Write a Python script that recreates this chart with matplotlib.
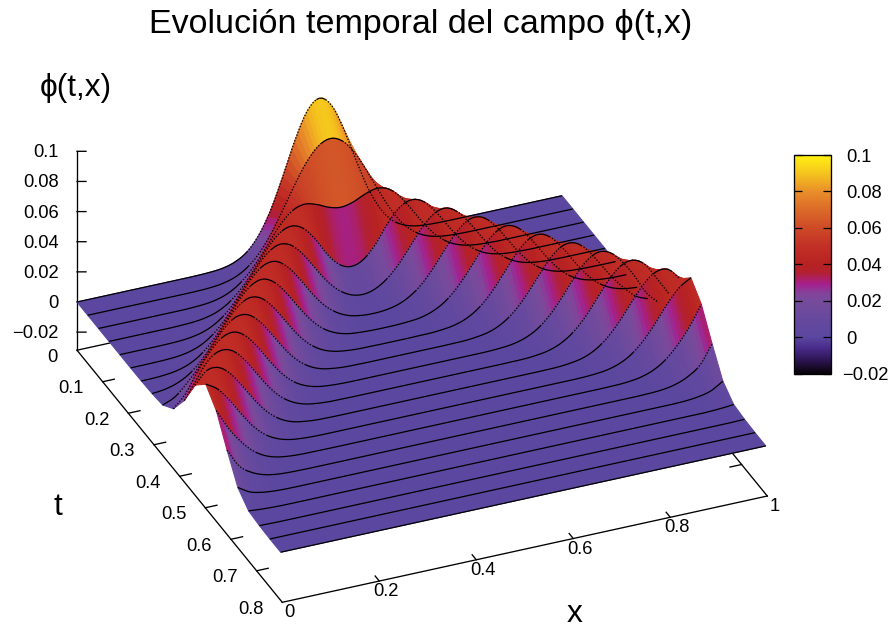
import numpy as np
import matplotlib
matplotlib.use("Agg")
import matplotlib.pyplot as plt
from matplotlib.colors import LinearSegmentedColormap, Normalize
from matplotlib.cm import ScalarMappable
from matplotlib.transforms import ScaledTranslation
from mpl_toolkits.mplot3d import proj3d

plt.rcParams['font.family'] = ['Liberation Sans', 'DejaVu Sans']

# ---- data: phi(t, x), in units of 1e-3 ----
x_vals = [i / 40 for i in range(41)]
t_vals = [0, .042, .084, .125, .167, .209, .251, .293, .334, .376,
          .418, .46, .502, .543, .585, .627, .669, .711, .752, .794]
row00 = [0,0,0,0,0,0,0,0,0,0,.1,.4,1.2,3.5,8.4,18,33.3,53.9,76,93.4,100,93.4,76,53.9,33.3,18,8.4,3.5,1.2,.4,.1,0,0,0,0,0,0,0,0,0,0]
row01 = [0,0,0,0,0,0,0,0,0,.1,.4,1.3,3.4,7.6,14.9,26,40.2,55.5,69.2,78.6,82,78.6,69.2,55.5,40.2,26,14.9,7.6,3.4,1.3,.4,.1,0,0,0,0,0,0,0,0,0]
row02 = [0,0,0,0,0,0,0,0,.3,.9,2.5,5.8,11.7,20.5,31.5,42.4,50,52.5,50.5,46.9,45.2,46.9,50.5,52.5,50,42.4,31.5,20.5,11.7,5.8,2.5,.9,.3,0,0,0,0,0,0,0,0]
row03 = [0,0,0,0,0,0,.2,.6,1.7,4.2,9,16.7,26.9,38,46.7,50,46.9,38,26,17.5,14.5,17.5,26,38,46.9,50,46.7,38,26.9,16.7,9,4.2,1.7,.6,.2,0,0,0,0,0,0]
row04 = [0,0,0,0,.1,.4,1.3,3.3,7.3,14,23.7,34.8,44.5,49.7,48.3,41,30.3,19.5,11.3,6.3,4.6,6.3,11.3,19.5,30.3,41,48.3,49.7,44.5,34.8,23.7,14,7.3,3.3,1.3,.4,.1,0,0,0,0]
row05 = [0,0,.1,.3,.9,2.5,5.8,11.7,20.5,31.4,42,48.8,49.5,43.7,33.7,22.6,13.2,6.8,3,1.3,.8,1.3,3,6.8,13.2,22.6,33.7,43.7,49.5,48.8,42,31.4,20.5,11.7,5.8,2.5,.9,.3,.1,0,0]
row06 = [.1,.2,.7,1.9,4.6,9.6,17.6,28,39,47.3,50,46,36.9,25.8,15.8,8.4,3.9,1.5,.6,.2,.1,.2,.6,1.5,3.9,8.4,15.8,25.8,36.9,46,50,47.3,39,28,17.6,9.6,4.6,1.9,.7,.2,.1]
row07 = [.5,1.4,3.6,7.8,14.9,24.7,35.9,45.3,49.9,47.9,40.1,29.2,18.5,10.3,5,2.1,.8,.2,.1,0,0,0,.1,.2,.8,2.1,5,10.3,18.5,29.2,40.1,47.9,49.9,45.3,35.9,24.7,14.9,7.8,3.6,1.4,.5]
row08 = [1.5,5,12.5,21.6,32.5,42.8,49.1,49.1,42.8,32.5,21.6,12.5,6.3,2.7,1.1,.3,.1,0,0,0,0,0,0,0,.1,.3,1.1,2.7,6.3,12.5,21.6,32.5,42.8,49.1,49.1,42.8,32.5,21.6,12.5,5,1.5]
row09 = [7.8,16,29.2,40.1,47.9,49.9,45.3,35.9,24.7,14.9,7.8,3.6,1.4,.5,.1,0,0,0,0,0,0,0,0,0,0,0,.1,.5,1.4,3.6,7.8,14.9,24.7,35.9,45.3,49.9,47.9,40.1,29.2,16,7.8]
row10 = [22,34,45.3,49.9,47.9,40.1,29.2,18.5,10.3,5,2.1,.8,.2,.1,0,0,0,0,0,0,0,0,0,0,0,0,0,.1,.2,.8,2.1,5,10.3,18.5,29.2,40.1,47.9,49.9,45.3,34,22]
row11 = [41,49.1,49.1,42.8,32.5,21.6,12.5,6.3,2.7,1.1,.3,.1,0,0,0,0,0,0,0,0,0,0,0,0,0,0,0,0,0,.1,.3,1.1,2.7,6.3,12.5,21.6,32.5,42.8,49.1,49.1,41]
row12 = [50.5,45.3,35.9,24.7,14.9,7.8,3.6,1.4,.5,.1,0,0,0,0,0,0,0,0,0,0,0,0,0,0,0,0,0,0,0,0,0,.1,.5,1.4,3.6,7.8,14.9,24.7,35.9,45.3,50.5]
row13 = [41.5,28,17.6,9.6,4.6,1.9,.7,.2,.1,0,0,0,0,0,0,0,0,0,0,0,0,0,0,0,0,0,0,0,0,0,0,0,.1,.2,.7,1.9,4.6,9.6,17.6,28,41.5]
row14 = [24,11.7,5.8,2.5,.9,.3,.1,0,0,0,0,0,0,0,0,0,0,0,0,0,0,0,0,0,0,0,0,0,0,0,0,0,0,0,.1,.3,.9,2.5,5.8,11.7,24]
row15 = [8,3.3,1.3,.4,.1,0,0,0,0,0,0,0,0,0,0,0,0,0,0,0,0,0,0,0,0,0,0,0,0,0,0,0,0,0,0,0,.1,.4,1.3,3.3,8]
row16 = [1.3,.6,.2,0,0,0,0,0,0,0,0,0,0,0,0,0,0,0,0,0,0,0,0,0,0,0,0,0,0,0,0,0,0,0,0,0,0,0,.2,.6,1.3]
row17 = [.3,.1,0,0,0,0,0,0,0,0,0,0,0,0,0,0,0,0,0,0,0,0,0,0,0,0,0,0,0,0,0,0,0,0,0,0,0,0,0,.1,.3]
row18 = [0,0,0,0,0,0,0,0,0,0,0,0,0,0,0,0,0,0,0,0,0,0,0,0,0,0,0,0,0,0,0,0,0,0,0,0,0,0,0,0,0]
row19 = [0,0,0,0,0,0,0,0,0,0,0,0,0,0,0,0,0,0,0,0,0,0,0,0,0,0,0,0,0,0,0,0,0,0,0,0,0,0,0,0,0]
rows = [row00,row01,row02,row03,row04,row05,row06,row07,row08,row09,
        row10,row11,row12,row13,row14,row15,row16,row17,row18,row19]

x_ticks = [0, .2, .4, .6, .8, 1]
x_labels = ['0', '0.2', '0.4', '0.6', '0.8', '1']
t_ticks = [0, .1, .2, .3, .4, .5, .6, .7, .8]
t_labels = ['0', '0.1', '0.2', '0.3', '0.4', '0.5', '0.6', '0.7', '0.8']
z_ticks = [-.02, 0, .02, .04, .06, .08, .1]
z_labels = ['\u22120.02', '0', '0.02', '0.04', '0.06', '0.08', '0.1']

cmap_z = [-.02, -.013, -.006, 0, .01, .02, .024, .029, .0355, .04, .05, .06, .07, .08, .09, .1]
cmap_c = ['#080208', '#2c1450', '#4a2c8c', '#5b479f', '#66499e', '#774b9b', '#83439a', '#a5208f',
          '#b32030', '#b72222', '#c23026', '#cd4a27', '#dc6a28', '#e98e2a', '#f5c41e', '#fff212']

ZMIN, ZMAX = -.02, .1
ZFLOOR = -.032
norm = Normalize(ZMIN, ZMAX)
cmap = LinearSegmentedColormap.from_list(
    'pal', [((z - ZMIN) / (ZMAX - ZMIN), c) for z, c in zip(cmap_z, cmap_c)], N=512)

W, H = 893, 630
fig = plt.figure(figsize=(W / 100, H / 100), dpi=100)
ax = fig.add_axes([0, 0, 1, 1], projection='3d', computed_zorder=False)
ax.set_proj_type('ortho')
ax.view_init(elev=31.25, azim=-112.9)
ax.set_box_aspect((525, 526, 232))
ax.set_axis_off()
ax.patch.set_alpha(0)


def set_limits():
    ax.set_xlim(0, 1, view_margin=0)
    ax.set_ylim(.8, 0, view_margin=0)
    ax.set_zlim(ZFLOOR, .1, view_margin=0)


# smooth drawing of each row along x (cubic Hermite through the read values)
SUB = 4
xv = np.array(x_vals)
zv = np.array(rows, dtype=float) * 1e-3
tv = np.array(t_vals)
u = (np.arange(SUB) / SUB)[None, :]
xf = np.concatenate([(xv[:-1, None] + u * (xv[1] - xv[0])).ravel(), xv[-1:]])


def fine(row):
    m = np.gradient(row, xv) * (xv[1] - xv[0])
    a, b, ma, mb = row[:-1, None], row[1:, None], m[:-1, None], m[1:, None]
    y = (2*u**3 - 3*u**2 + 1)*a + (u**3 - 2*u**2 + u)*ma + (-2*u**3 + 3*u**2)*b + (u**3 - u**2)*mb
    return np.clip(np.concatenate([y.ravel(), row[-1:]]), 0, None)


zf = np.array([fine(r) for r in zv])

# surface: one strip between consecutive rows, back to front;
# each quad takes the colour of the mean of its corners
for s in range(len(tv) - 1):
    Z = np.vstack([zf[s], zf[s + 1]])
    T = np.vstack([np.full_like(xf, tv[s]), np.full_like(xf, tv[s + 1])])
    X = np.vstack([xf, xf])
    mean_z = .5 * (Z[0] + Z[1])
    mean_z = .5 * (mean_z[:-1] + mean_z[1:])
    col = cmap(norm(np.append(mean_z, mean_z[-1])))
    ax.plot_surface(X, T, Z, facecolors=np.stack([col, col]), rstride=1, cstride=1,
                    shade=False, linewidth=.8, zorder=2 * s + 2)


def draw_row(xs, t, zs, zo):
    if len(xs) < 2:
        return
    steep = np.abs(np.gradient(zs, xf[1] - xf[0])) > .24
    i = 0
    while i < len(xs) - 1:
        j = i + 1
        while j < len(xs) - 1 and steep[j] == steep[i]:
            j += 1
        if steep[i]:
            ax.plot(xs[i:j + 1], [t] * (j + 1 - i), zs[i:j + 1], color='k', lw=.95,
                    ls=(0, (1, 1.3)), zorder=zo)
        else:
            ax.plot(xs[i:j + 1], [t] * (j + 1 - i), zs[i:j + 1], color='k', lw=.9,
                    solid_capstyle='butt', zorder=zo)
        i = j


# row lines: left of the left crest in depth order, the rest over the surface
for s, t in enumerate(tv):
    mid = len(xf) // 2
    left = zf[s][:mid + 1]
    k = int(np.argmax(left)) if left.max() > .02 else 0
    if s == 0:
        k = mid
    draw_row(xf[:k + 1], t, zf[s][:k + 1], 2 * s + 3)
    draw_row(xf[k:], t, zf[s][k:], 1000)

# base frame, axes and ticks
LW = .95
fx = lambda a, b, c: ax.plot(a, b, c, color='k', lw=LW, zorder=1)
fx([0, 1], [.8, .8], [ZFLOOR, ZFLOOR])
fx([0, 0], [0, .8], [ZFLOOR, ZFLOOR])
fx([0, 1], [0, 0], [ZFLOOR, ZFLOOR])
fx([1, 1], [0, .8], [ZFLOOR, ZFLOOR])
fx([0, 0], [0, 0], [ZFLOOR, .1])
for v in t_ticks[1:-1]:
    fx([0, .024], [v, v], [ZFLOOR, ZFLOOR])
    fx([1, .976], [v, v], [ZFLOOR, ZFLOOR])
for v in x_ticks[1:-1]:
    fx([v, v], [.8, .784], [ZFLOOR, ZFLOOR])
for v in z_ticks:
    fx([0, .0158], [0, .0053], [v, v])

set_limits()

# place the 3D box on the canvas: axes fractions of two projected points
M = ax.get_proj()


def frac(x, t, z):
    px, py, _ = proj3d.proj_transform(np.array([float(x)]), np.array([float(t)]), np.array([float(z)]), M)
    return ax.transLimits.transform(np.column_stack([px, py]))[0]


f0, f1 = frac(0, 0, 0), frac(1, 0, 0)
S = 485 / (f1[0] - f0[0])
left = 77 - S * f0[0]
bottom = (H - 302) - S * f0[1]
ax.set_position([left / W, bottom / H, S / W, S / H])


def label(x, t, z, s, dx, dy, ha):
    f = frac(x, t, z)
    fig.text((left + S * f[0] + dx) / W, (bottom + S * f[1] - dy) / H, s, ha=ha, va='center', fontsize=FS)


FS = 13.2
for v, s in zip(t_ticks, t_labels):
    label(0, v, ZFLOOR, s, -19, 7, 'right')
for v, s in zip(x_ticks, x_labels):
    label(v, .8, ZFLOOR, s, 7, 10.5, 'center')
for v, s in zip(z_ticks, z_labels):
    label(0, 0, v, s, -18, 1.5, 'right')

# colour bar
cax = fig.add_axes([793.5 / W, (H - 373.5) / H, 37 / W, 218.5 / H])
cb = fig.colorbar(ScalarMappable(norm, cmap), cax=cax, ticks=z_ticks)
cb.outline.set_linewidth(.95)
cax.tick_params(axis='y', direction='in', left=True, right=True, length=5.6, width=.9, pad=11.5, labelsize=FS)
cax.set_yticklabels(z_labels)
lab0 = cax.get_yticklabels()[0]
lab0.set_transform(lab0.get_transform() + ScaledTranslation(-.04, 0, fig.dpi_scale_trans))

# titles
fig.text(421 / W, (H - 24) / H, 'Evolución temporal del campo \u03d5(t,x)', ha='center', va='center', fontsize=24.5)
fig.text(76 / W, (H - 88) / H, '\u03d5(t,x)', ha='center', va='center', fontsize=22.8)
fig.text(575 / W, (H - 614) / H, 'x', ha='center', va='center', fontsize=22.8)
fig.text(58 / W, (H - 507) / H, 't', ha='center', va='center', fontsize=22.8)

fig.savefig('out.png', dpi=100)
